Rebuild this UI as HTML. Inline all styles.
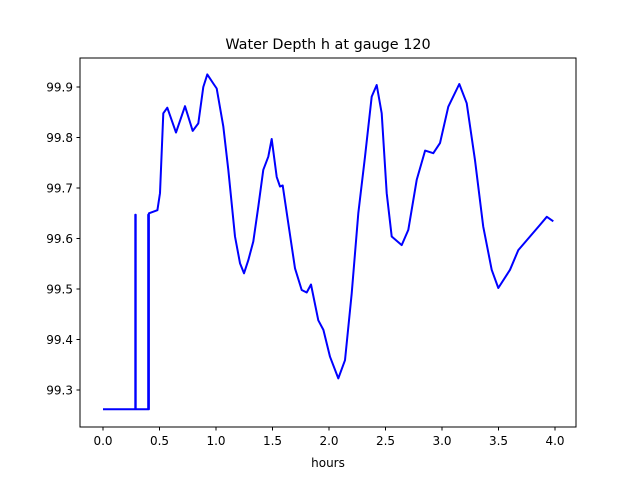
<!DOCTYPE html>
<html><head><meta charset="utf-8"><style>
body{margin:0;background:#fff;}
svg text{font-family:"DejaVu Sans","Liberation Sans",sans-serif;fill:#000;}
</style></head><body>
<svg id="chart" width="640" height="480" viewBox="0 0 640 480" xmlns="http://www.w3.org/2000/svg">
<rect width="640" height="480" fill="#fff"/>
<text x="328" y="49" font-size="14.4" text-anchor="middle">Water Depth h at gauge 120</text>
<text x="328" y="467" font-size="12" text-anchor="middle">hours</text>
<g id="axes"></g>
<path id="series" fill="none" stroke="#0000ff" stroke-width="2" stroke-linejoin="round"/>
<rect x="80" y="58" width="496" height="369" fill="none" stroke="#000" stroke-width="1"/>
</svg>
<script>
const tHours=[0,0.286,0.286,0.289,0.289,0.40,0.40,0.403,0.403,0.406,0.406,0.481,0.504,0.534,0.569,0.646,0.726,0.794,0.843,0.888,0.923,0.976,1.006,1.065,1.109,1.168,1.212,1.248,1.286,1.330,1.374,1.419,1.463,1.493,1.537,1.566,1.590,1.640,1.699,1.758,1.803,1.841,1.905,1.950,2.009,2.082,2.142,2.201,2.259,2.319,2.378,2.422,2.466,2.511,2.555,2.643,2.702,2.776,2.850,2.923,2.982,3.056,3.153,3.219,3.292,3.365,3.440,3.498,3.602,3.675,3.779,3.867,3.927,3.985];
const depth=[99.262,99.262,99.647,99.647,99.262,99.262,99.647,99.647,99.262,99.262,99.65,99.656,99.69,99.848,99.859,99.81,99.862,99.813,99.828,99.9,99.925,99.907,99.897,99.822,99.736,99.604,99.551,99.531,99.557,99.594,99.663,99.736,99.762,99.797,99.722,99.703,99.705,99.630,99.541,99.498,99.493,99.509,99.438,99.419,99.366,99.323,99.359,99.491,99.65,99.762,99.881,99.904,99.848,99.69,99.604,99.587,99.617,99.716,99.774,99.769,99.789,99.861,99.906,99.868,99.755,99.624,99.538,99.502,99.538,99.577,99.604,99.627,99.643,99.634];
const xTicks=[0,0.5,1,1.5,2,2.5,3,3.5,4];
const xTickLabels=["0.0","0.5","1.0","1.5","2.0","2.5","3.0","3.5","4.0"];
const yTicks=[99.3,99.4,99.5,99.6,99.7,99.8,99.9];
const yTickLabels=["99.3","99.4","99.5","99.6","99.7","99.8","99.9"];

const X=t=>103+t*113;
const Y=h=>87+(99.9-h)*505;
const NS="http://www.w3.org/2000/svg";
const axes=document.getElementById('axes');
xTicks.forEach((v,i)=>{
  const l=document.createElementNS(NS,'line');
  
  
  l.setAttribute('x1',X(v));l.setAttribute('x2',X(v));l.setAttribute('y1',427);l.setAttribute('y2',430.5);l.setAttribute('stroke','#000');
  axes.appendChild(l);
  const t=document.createElementNS(NS,'text');
  
  
  t.setAttribute('x',X(v));t.setAttribute('y',445);t.setAttribute('font-size','12');t.setAttribute('text-anchor','middle');
  t.textContent=xTickLabels[i];axes.appendChild(t);
});
yTicks.forEach((v,i)=>{
  const l=document.createElementNS(NS,'line');
  
  
  l.setAttribute('x1',76.5);l.setAttribute('x2',80);l.setAttribute('y1',Y(v));l.setAttribute('y2',Y(v));l.setAttribute('stroke','#000');
  axes.appendChild(l);
  const t=document.createElementNS(NS,'text');
  
  
  t.setAttribute('x',73);t.setAttribute('y',Y(v)+4.5);t.setAttribute('font-size','12');t.setAttribute('text-anchor','end');
  t.textContent=yTickLabels[i];axes.appendChild(t);
});
let d='';
tHours.forEach((t,i)=>{d+=(i?'L':'M')+X(t).toFixed(1)+','+Y(depth[i]).toFixed(1);});
document.getElementById('series').setAttribute('d',d);
</script>
</body></html>
